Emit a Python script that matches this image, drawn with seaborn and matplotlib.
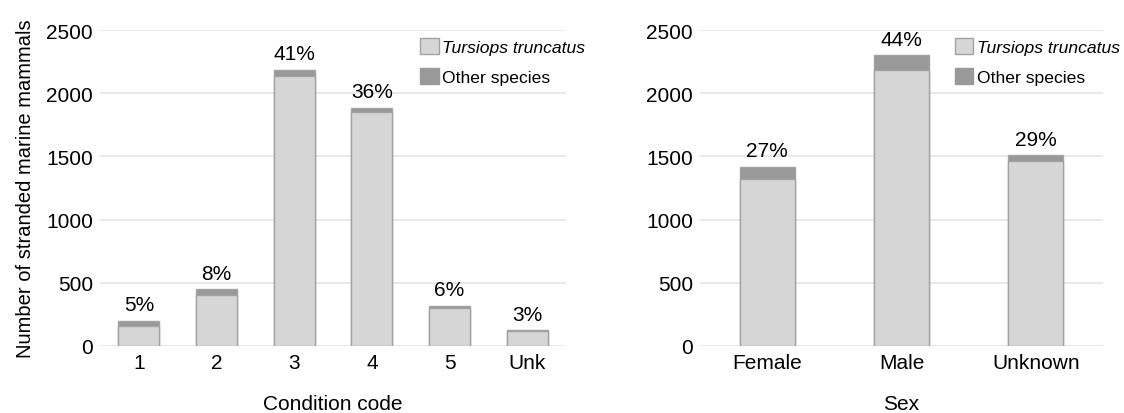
import numpy as np
import pandas as pd
import seaborn as sns
import matplotlib.pyplot as plt
from matplotlib.patches import Patch

# 数据：从图中估读
condition_codes = ['1', '2', '3', '4', '5', 'Unk']
cond_tursiops = [160, 405, 2140, 1850, 300, 115]
cond_other = [40, 45, 45, 35, 20, 12]
cond_pct = ['5%', '8%', '41%', '36%', '6%', '3%']

sex_labels = ['Female', 'Male', 'Unknown']
sex_tursiops = [1325, 2180, 1460]
sex_other = [95, 120, 50]
sex_pct = ['27%', '44%', '29%']

light = '#d6d6d6'
dark = '#999999'
edge = '#a3a3a3'

sns.set_style("white")
plt.rcParams['font.family'] = ['Liberation Sans', 'DejaVu Sans']
plt.rcParams['text.color'] = 'black'
plt.rcParams['axes.labelcolor'] = 'black'
plt.rcParams['xtick.color'] = 'black'
plt.rcParams['ytick.color'] = 'black'

fig = plt.figure(figsize=(11.24, 4.14), dpi=100)
ax1 = fig.add_axes([100 / 1124, (414 - 347) / 414, 466 / 1124, 316 / 414])
ax2 = fig.add_axes([700 / 1124, (414 - 347) / 414, 403 / 1124, 316 / 414])


def stacked(ax, cats, tur, oth, pct, width, xlabel, leg_x):
    df = pd.DataFrame({'cat': cats, 'tur': tur, 'total': np.array(tur) + np.array(oth)})
    sns.barplot(data=df, x='cat', y='total', color=dark, width=width, ax=ax,
                edgecolor=edge, linewidth=1, saturation=1, zorder=2)
    sns.barplot(data=df, x='cat', y='tur', color=light, width=width, ax=ax,
                edgecolor=edge, linewidth=1, saturation=1, zorder=3)
    for i, (t, p) in enumerate(zip(df['total'], pct)):
        ax.text(i, t + 50, p, ha='center', va='bottom', fontsize=15)
    ax.set_ylim(0, 2500)
    ax.set_yticks(range(0, 2501, 500))
    ax.yaxis.grid(True, color='#e8e4e2', linewidth=1.2, zorder=0)
    ax.set_axisbelow(True)
    for s in ax.spines.values():
        s.set_visible(False)
    ax.tick_params(axis='both', labelsize=15, length=0)
    ax.tick_params(axis='y', pad=5)
    ax.tick_params(axis='x', pad=5)
    ax.set_xlabel(xlabel, fontsize=15, labelpad=16)
    ax.set_ylabel('')
    handles = [Patch(facecolor=light, edgecolor=edge, label='Tursiops truncatus'),
               Patch(facecolor=dark, edgecolor=dark, label='Other species')]
    leg = ax.legend(handles=handles, loc='upper left', bbox_to_anchor=(leg_x, 0.975),
                    frameon=False, fontsize=12.6, handlelength=1.05, handleheight=1.05,
                    handletextpad=0.2, borderaxespad=0, borderpad=0, labelspacing=0.75)
    leg.get_texts()[0].set_style('italic')


stacked(ax1, condition_codes, cond_tursiops, cond_other, cond_pct, 0.53, 'Condition code', 0.687)
stacked(ax2, sex_labels, sex_tursiops, sex_other, sex_pct, 0.41, 'Sex', 0.633)
ax1.set_ylabel('Number of stranded marine mammals', fontsize=14.5, labelpad=8)

fig.savefig('out.png', dpi=100)
